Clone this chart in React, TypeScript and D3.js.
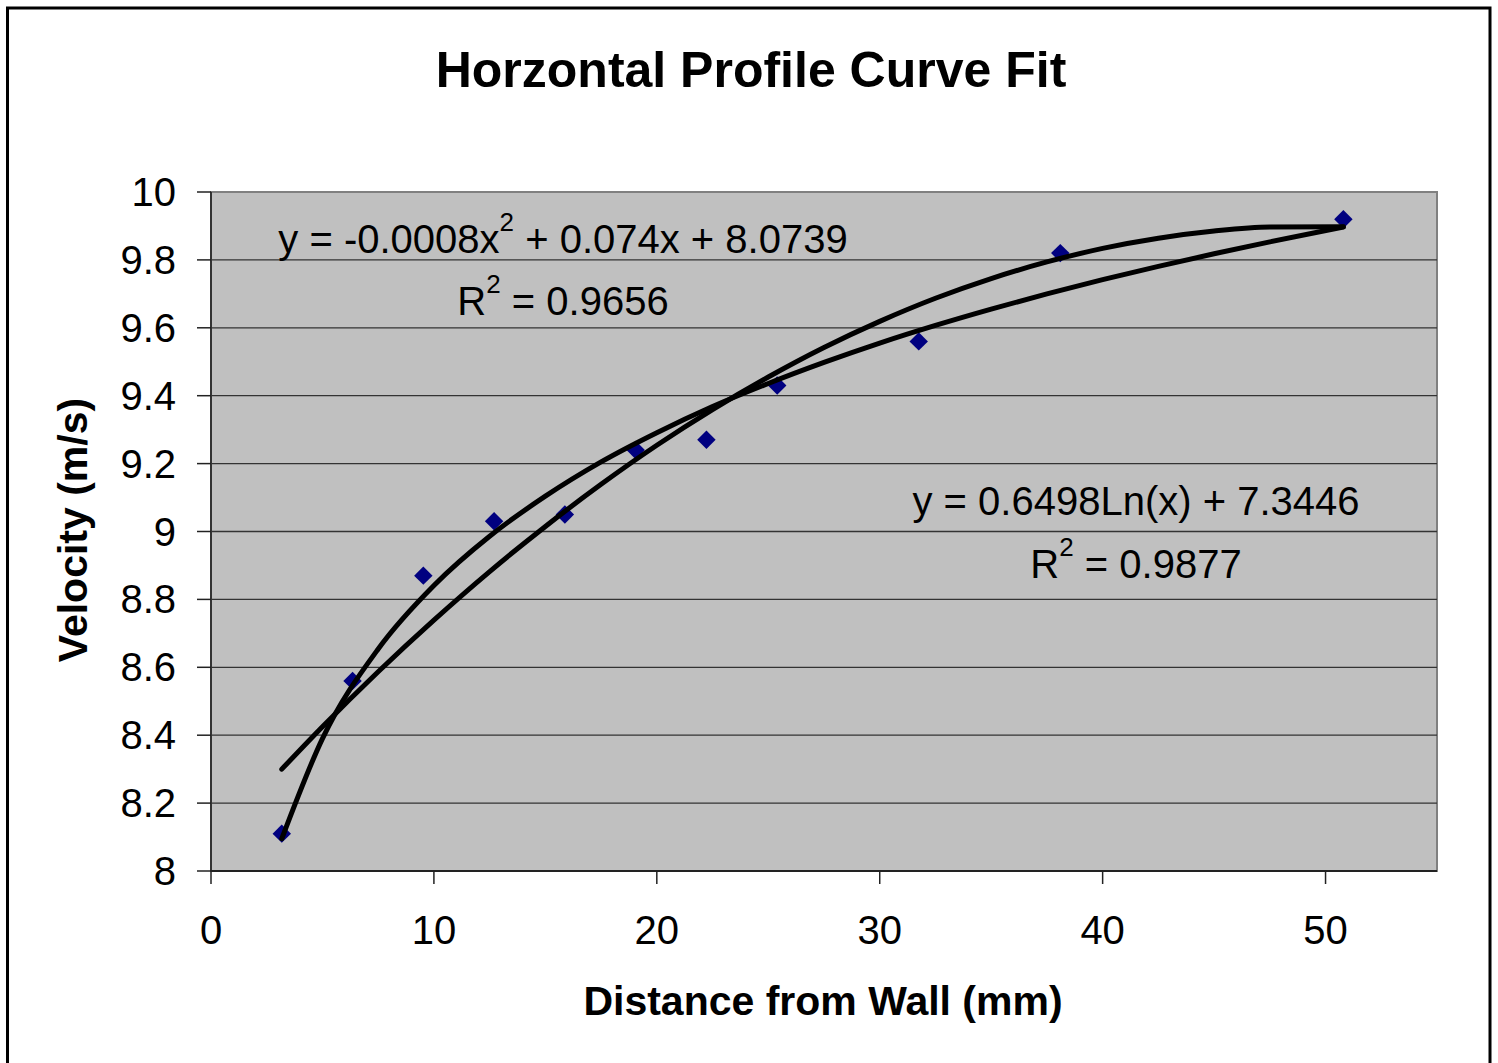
import React from "react";
import * as d3 from "d3";

// measured points: distance from wall (mm) vs velocity (m/s)
const distance = [3.175, 6.35, 9.525, 12.7, 15.875, 19.05, 22.225, 25.4, 31.75, 38.1, 50.8];
const velocity = [8.11, 8.56, 8.87, 9.03, 9.05, 9.24, 9.27, 9.43, 9.56, 9.82, 9.92];

// trendlines
const fitX = [3.175, 5, 7.5, 10, 12.5, 15, 17.5, 20, 22.5, 25, 27.5, 30, 32.5, 35, 37.5, 40, 42.5, 45, 47.5, 50.8];
const polyFitY = [8.3, 8.425, 8.587, 8.739, 8.882, 9.015, 9.139, 9.254, 9.359, 9.455, 9.542, 9.619, 9.687, 9.745, 9.794, 9.834, 9.864, 9.885, 9.897, 9.898];
const logFitY = [8.095, 8.39, 8.654, 8.841, 8.986, 9.104, 9.205, 9.291, 9.368, 9.436, 9.498, 9.555, 9.607, 9.655, 9.7, 9.742, 9.781, 9.818, 9.853, 9.897];

const xTicks = [0, 10, 20, 30, 40, 50];
const yTicks = [8, 8.2, 8.4, 8.6, 8.8, 9, 9.2, 9.4, 9.6, 9.8, 10];

const font = "'Liberation Sans', Arial, sans-serif";

const App = () => {
  const left = 211;
  const right = 1437;
  const top = 192;
  const bottom = 871;

  const x = d3.scaleLinear().domain([0, 55]).range([left, right]);
  const y = d3.scaleLinear().domain([8, 10]).range([bottom, top]);

  const line = d3
    .line<number>()
    .x((_, i) => x(fitX[i]))
    .y((d) => y(d))
    .curve(d3.curveMonotoneX);

  const diamond = d3.symbol(d3.symbolSquare, 170)();

  return (
    <svg
      width={1498}
      height={1063}
      style={{ position: "absolute", left: 0, top: 0, display: "block" }}
      fontFamily={font}
    >
      <rect x={0} y={0} width={1498} height={1063} fill="#fff" />
      <rect x={7.5} y={8} width={1482.5} height={1200} fill="none" stroke="#000" strokeWidth={3} />

      <text x={751} y={87} textAnchor="middle" fontSize={50} fontWeight="bold">
        Horzontal Profile Curve Fit
      </text>

      <rect x={left} y={top} width={right - left} height={bottom - top} fill="#c0c0c0" stroke="#808080" strokeWidth={2} />

      {yTicks.slice(1, -1).map((t) => (
        <line key={t} x1={left} x2={right} y1={y(t)} y2={y(t)} stroke="#333" strokeWidth={1.3} />
      ))}

      <line x1={left} x2={left} y1={top} y2={bottom} stroke="#333" strokeWidth={2} />
      <line x1={left} x2={right} y1={bottom} y2={bottom} stroke="#222" strokeWidth={2} />

      {yTicks.map((t) => (
        <g key={t}>
          <line x1={left - 14} x2={left} y1={y(t)} y2={y(t)} stroke="#222" strokeWidth={1.5} />
          <text x={176} y={y(t) + 14} textAnchor="end" fontSize={40}>
            {d3.format("~g")(t)}
          </text>
        </g>
      ))}

      {xTicks.map((t) => (
        <g key={t}>
          <line x1={x(t)} x2={x(t)} y1={bottom} y2={bottom + 13} stroke="#222" strokeWidth={1.5} />
          <text x={x(t)} y={944} textAnchor="middle" fontSize={40}>
            {t}
          </text>
        </g>
      ))}

      {distance.map((d, i) => (
        <path
          key={i}
          d={diamond}
          transform={`translate(${x(d)},${y(velocity[i])}) rotate(45)`}
          fill="#000080"
        />
      ))}

      <path d={line(polyFitY) || ""} fill="none" stroke="#000" strokeWidth={5} strokeLinejoin="round" strokeLinecap="round" />
      <path d={line(logFitY) || ""} fill="none" stroke="#000" strokeWidth={5} strokeLinejoin="round" strokeLinecap="round" />

      <text x={563} y={253} textAnchor="middle" fontSize={40}>
        <tspan>y = -0.0008x</tspan>
        <tspan dy={-22} fontSize={26}>2</tspan>
        <tspan dy={22}> + 0.074x + 8.0739</tspan>
      </text>
      <text x={563} y={315} textAnchor="middle" fontSize={40}>
        <tspan>R</tspan>
        <tspan dy={-22} fontSize={26}>2</tspan>
        <tspan dy={22}> = 0.9656</tspan>
      </text>

      <text x={1136} y={515} textAnchor="middle" fontSize={40}>
        y = 0.6498Ln(x) + 7.3446
      </text>
      <text x={1136} y={578} textAnchor="middle" fontSize={40}>
        <tspan>R</tspan>
        <tspan dy={-22} fontSize={26}>2</tspan>
        <tspan dy={22}> = 0.9877</tspan>
      </text>

      <text x={823} y={1015} textAnchor="middle" fontSize={41} fontWeight="bold">
        Distance from Wall (mm)
      </text>
      <text transform="translate(87,530) rotate(-90)" textAnchor="middle" fontSize={41} fontWeight="bold">
        Velocity (m/s)
      </text>
    </svg>
  );
};

export default App;
